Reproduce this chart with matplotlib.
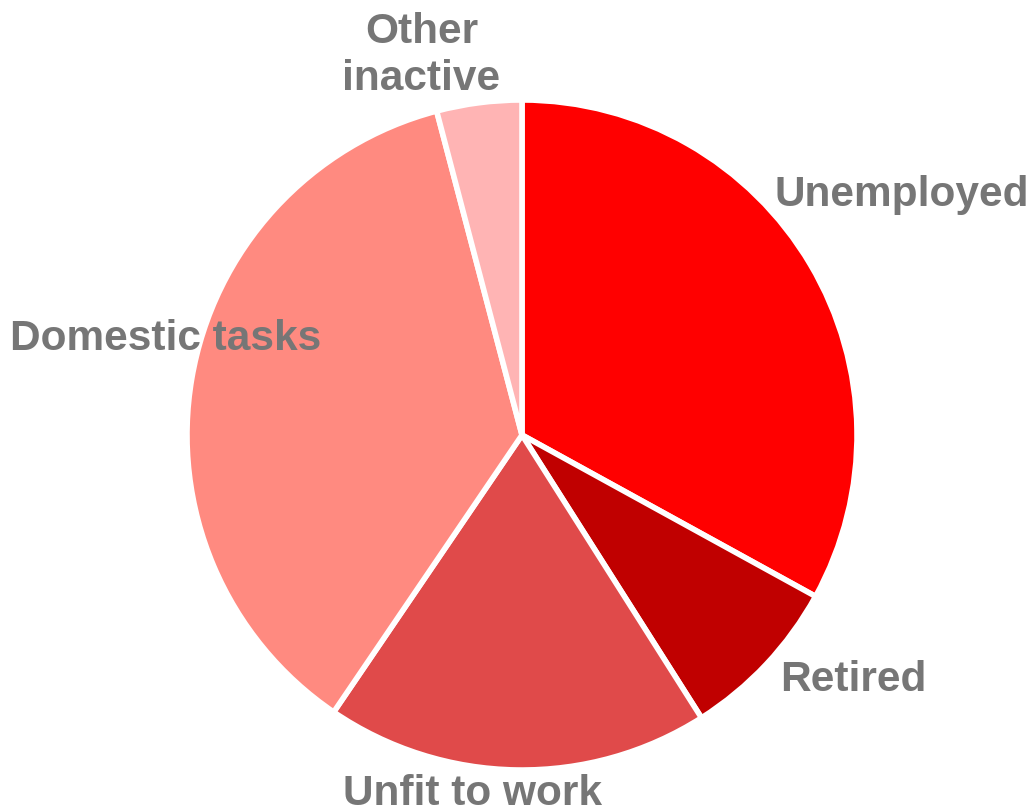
import matplotlib.pyplot as plt

labels = ["Unemployed", "Retired", "Unfit to work", "Domestic tasks", "Other\ninactive"]
shares = [33.0, 8.0, 18.5, 36.4, 4.1]
colors = ["#FF0000", "#C00000", "#E04A4A", "#FF8A80", "#FFB4B4"]

# label anchors in data units (pie radius = 1)
label_pos = [(0.755, 0.684, "left"), (0.77, -0.764, "left"),
             (-0.149, -1.105, "center"), (-1.528, 0.254, "left"),
             (-0.30, 1.030, "center")]

plt.rcParams["font.family"] = ["Liberation Sans", "DejaVu Sans"]

fig = plt.figure(figsize=(10.29, 8.09), dpi=100)
ax = fig.add_axes([0, 0, 1, 1])
ax.pie(shares, colors=colors, startangle=90, counterclock=False, radius=1.0,
       wedgeprops=dict(edgecolor="white", linewidth=4))

for name, (x, y, ha) in zip(labels, label_pos):
    ax.text(x, y, name, ha=ha, va="baseline", fontsize=30.5, fontweight="bold",
            color="#767676", linespacing=1.22)

ax.set_xlim(-522 / 335, (1029 - 522) / 335)
ax.set_ylim(-(809 - 435) / 335, 435 / 335)
ax.set_aspect("equal")
ax.axis("off")
plt.savefig("out.png", dpi=100)
